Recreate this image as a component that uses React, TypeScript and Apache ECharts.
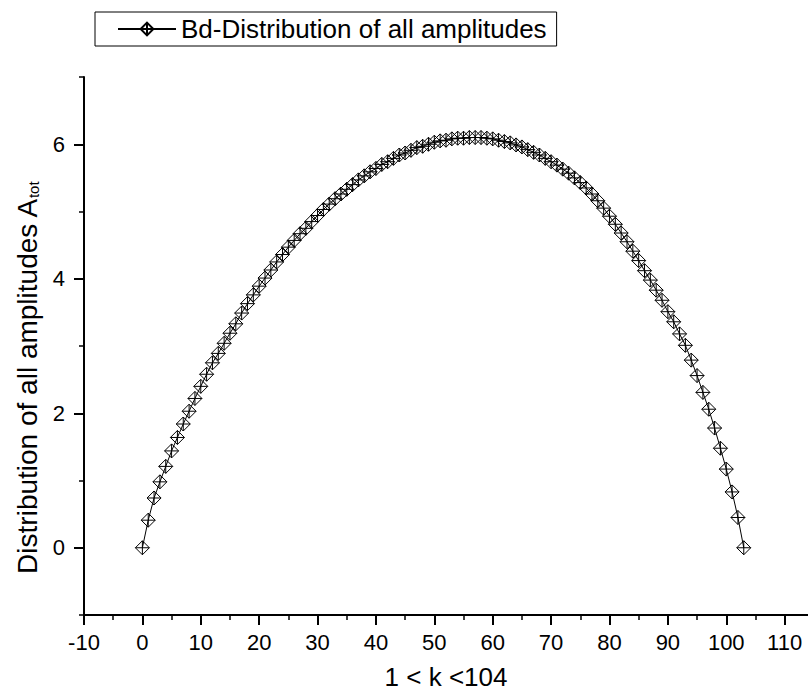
import React, { useEffect, useRef } from "react";
import * as echarts from "echarts";

// Distribution of all amplitudes A_tot for k = 0 .. 103 (index = k)
const ampValues: number[] = [
  0, 0.41, 0.74, 0.98, 1.21, 1.44, 1.64, 1.84, 2.03, 2.22,
  2.4, 2.58, 2.75, 2.89, 3.04, 3.19, 3.33, 3.49, 3.63, 3.76,
  3.89, 4.01, 4.13, 4.25, 4.36, 4.47, 4.57, 4.67, 4.75, 4.85,
  4.94, 5.03, 5.11, 5.19, 5.26, 5.33, 5.4, 5.47, 5.53, 5.59,
  5.64, 5.7, 5.74, 5.79, 5.84, 5.87, 5.91, 5.95, 5.97, 6.0,
  6.03, 6.05, 6.06, 6.08, 6.09, 6.09, 6.1, 6.1, 6.1, 6.09,
  6.08, 6.06, 6.04, 6.02, 5.99, 5.96, 5.92, 5.88, 5.84, 5.79,
  5.74, 5.69, 5.63, 5.57, 5.5, 5.43, 5.35, 5.26, 5.16, 5.05,
  4.93, 4.81, 4.68, 4.55, 4.41, 4.27, 4.12, 3.98, 3.83, 3.68,
  3.51, 3.36, 3.18, 3.01, 2.79, 2.56, 2.31, 2.06, 1.78, 1.48,
  1.17, 0.83, 0.45, 0,
];

const xMajorTicks = [-10, 0, 10, 20, 30, 40, 50, 60, 70, 80, 90, 100, 110];
const xMinorTicks = [-5, 5, 15, 25, 35, 45, 55, 65, 75, 85, 95, 105];
const yMajorTicks = [0, 2, 4, 6];
const yMinorTicks = [-1, 1, 3, 5, 7];

const seriesName = "Bd-Distribution of all amplitudes";
const xTitle = "1 < k <104";
const yTitleMain = "Distribution of all amplitudes A";
const yTitleSub = "tot";

const FONT = "'Liberation Sans', Arial, Helvetica, sans-serif";
const MARKER =
  "path://M10,0 L20,10 L10,20 L0,10 Z M10,0 L10,20 M0,10 L20,10";

export default function App() {
  const ref = useRef<HTMLDivElement>(null);

  useEffect(() => {
    if (!ref.current) return;
    const chart = echarts.init(ref.current, undefined, { renderer: "svg" });
    const data = ampValues.map((v, i) => [i, v]);

    const baseX = {
      type: "value" as const,
      position: "bottom" as const,
      min: -10,
      max: 114,
      interval: 10,
      splitLine: { show: false },
    };
    const baseY = {
      type: "value" as const,
      position: "left" as const,
      min: -1,
      max: 7,
      interval: 1,
      splitLine: { show: false },
    };

    chart.setOption({
      animation: false,
      backgroundColor: "#ffffff",
      textStyle: { fontFamily: FONT },
      grid: { left: 84, top: 77, right: 0, bottom: 80, containLabel: false },
      legend: {
        left: 95,
        top: 12,
        padding: [4, 10, 4, 22],
        borderColor: "#000",
        borderWidth: 1,
        itemWidth: 58,
        itemHeight: 16,
        textStyle: { fontSize: 26, color: "#000", fontFamily: FONT },
        data: [seriesName],
      },
      xAxis: [
        {
          ...baseX,
          axisLine: {
            show: true,
            onZero: false,
            lineStyle: { color: "#000", width: 2 },
          },
          axisTick: {
            show: true,
            inside: false,
            length: 10,
            customValues: xMajorTicks,
            lineStyle: { color: "#000", width: 2 },
          },
          axisLabel: {
            customValues: xMajorTicks,
            fontSize: 22,
            color: "#000",
            margin: 16,
            fontFamily: FONT,
          },
        },
        {
          ...baseX,
          axisLine: { show: false, onZero: false },
          axisTick: {
            show: true,
            length: 5,
            customValues: xMinorTicks,
            lineStyle: { color: "#000", width: 1.5 },
          },
          axisLabel: { show: false },
        },
      ],
      yAxis: [
        {
          ...baseY,
          axisLine: {
            show: true,
            onZero: false,
            lineStyle: { color: "#000", width: 2 },
          },
          axisTick: {
            show: true,
            length: 10,
            customValues: yMajorTicks,
            lineStyle: { color: "#000", width: 2 },
          },
          axisLabel: {
            customValues: yMajorTicks,
            fontSize: 22,
            color: "#000",
            margin: 19,
            fontFamily: FONT,
          },
        },
        {
          ...baseY,
          axisLine: { show: false, onZero: false },
          axisTick: {
            show: true,
            length: 5,
            customValues: yMinorTicks,
            lineStyle: { color: "#000", width: 1.5 },
          },
          axisLabel: { show: false },
        },
      ],
      graphic: [
        {
          type: "text",
          x: 446,
          y: 677,
          style: {
            text: xTitle,
            fontSize: 26,
            fontFamily: FONT,
            fill: "#000",
            align: "center",
            verticalAlign: "middle",
          },
        },
        {
          type: "text",
          x: 27,
          y: 378,
          rotation: Math.PI / 2,
          style: {
            text: `{a|${yTitleMain}}{b|${yTitleSub}}`,
            align: "center",
            verticalAlign: "middle",
            fill: "#000",
            rich: {
              a: { fontSize: 28, fontFamily: FONT, fill: "#000" },
              b: {
                fontSize: 15,
                fontFamily: FONT,
                fill: "#000",
                verticalAlign: "bottom",
              },
            },
          },
        },
      ],
      series: [
        {
          name: seriesName,
          type: "line",
          xAxisIndex: 0,
          yAxisIndex: 0,
          data,
          symbol: MARKER,
          symbolSize: 14,
          showAllSymbol: true,
          lineStyle: { color: "#000", width: 1 },
          itemStyle: {
            color: "rgba(255,255,255,0)",
            borderColor: "#000",
            borderWidth: 1,
          },
          emphasis: { disabled: true },
        },
      ],
    });

    return () => chart.dispose();
  }, []);

  return (
    <div
      ref={ref}
      style={{ position: "fixed", left: 0, top: 0, width: 808, height: 695 }}
    />
  );
}
